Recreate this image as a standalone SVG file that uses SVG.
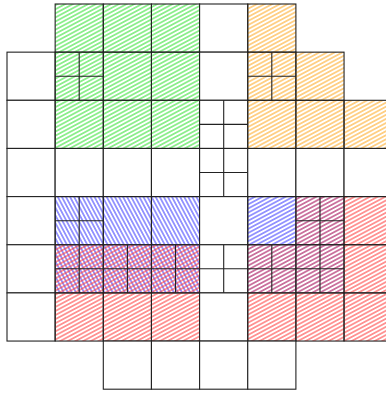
<svg xmlns="http://www.w3.org/2000/svg" width="386" height="394" viewBox="0 0 386 394">
<style>
.c{stroke:#222;stroke-width:1.1;fill:none}
.w{fill:#fff}
.g{fill:url(#pg)}
.o{fill:url(#po)}
.b{fill:url(#pb)}
.bs{fill:url(#pbs)}
.r{fill:url(#pr)}
.p{fill:url(#pp)}
</style>
<defs>
<pattern id="pg" width="8" height="3.6" patternUnits="userSpaceOnUse" patternTransform="rotate(-28)"><line x1="0" y1="1.8" x2="8" y2="1.8" stroke="#2ee02e" stroke-width="1"/></pattern>
<pattern id="po" width="8" height="3.6" patternUnits="userSpaceOnUse" patternTransform="rotate(-28)"><line x1="0" y1="1.8" x2="8" y2="1.8" stroke="#ffa820" stroke-width="1"/></pattern>
<pattern id="pb" width="8" height="3.6" patternUnits="userSpaceOnUse" patternTransform="rotate(-28)"><line x1="0" y1="1.8" x2="8" y2="1.8" stroke="#3a3aff" stroke-width="1"/></pattern>
<pattern id="pr" width="8" height="3.6" patternUnits="userSpaceOnUse" patternTransform="rotate(-28)"><line x1="0" y1="1.8" x2="8" y2="1.8" stroke="#ff3a3a" stroke-width="1"/></pattern>
<pattern id="pp" width="8" height="3.6" patternUnits="userSpaceOnUse" patternTransform="rotate(-28)"><line x1="0" y1="1.8" x2="8" y2="1.8" stroke="#a8145e" stroke-width="1.1"/></pattern>
<pattern id="pbs" width="8" height="3.6" patternUnits="userSpaceOnUse" patternTransform="rotate(62)"><line x1="0" y1="1.8" x2="8" y2="1.8" stroke="#3a3aff" stroke-width="1"/></pattern>
</defs>
<rect width="386" height="394" fill="#fff"/>
<g id="cells">
<!-- row 0 -->
<g id="r0c1"><rect class="c g" x="55.15" y="4" width="48.15" height="48.15"/></g>
<g id="r0c2"><rect class="c g" x="103.3" y="4" width="48.15" height="48.15"/></g>
<g id="r0c3"><rect class="c g" x="151.45" y="4" width="48.15" height="48.15"/></g>
<g id="r0c4"><rect class="c w" x="199.6" y="4" width="48.15" height="48.15"/></g>
<g id="r0c5"><rect class="c o" x="247.75" y="4" width="48.15" height="48.15"/></g>
<!-- row 1 -->
<g id="r1c0"><rect class="c w" x="7" y="52.15" width="48.15" height="48.15"/></g>
<g id="r1c1"><rect class="c g" x="55.15" y="52.15" width="48.15" height="48.15"/><path class="c" d="M79.2 52.15V100.3M55.15 76.2H103.3"/></g>
<g id="r1c2"><rect class="c g" x="103.3" y="52.15" width="48.15" height="48.15"/></g>
<g id="r1c3"><rect class="c g" x="151.45" y="52.15" width="48.15" height="48.15"/></g>
<g id="r1c4"><rect class="c w" x="199.6" y="52.15" width="48.15" height="48.15"/></g>
<g id="r1c5"><rect class="c o" x="247.75" y="52.15" width="48.15" height="48.15"/><path class="c" d="M271.8 52.15V100.3M247.75 76.2H295.9"/></g>
<g id="r1c6"><rect class="c o" x="295.9" y="52.15" width="48.15" height="48.15"/></g>
<!-- row 2 -->
<g id="r2c0"><rect class="c w" x="7" y="100.3" width="48.15" height="48.15"/></g>
<g id="r2c1"><rect class="c g" x="55.15" y="100.3" width="48.15" height="48.15"/></g>
<g id="r2c2"><rect class="c g" x="103.3" y="100.3" width="48.15" height="48.15"/></g>
<g id="r2c3"><rect class="c g" x="151.45" y="100.3" width="48.15" height="48.15"/></g>
<g id="r2c4"><rect class="c w" x="199.6" y="100.3" width="48.15" height="48.15"/><path class="c" d="M223.7 100.3V148.45M199.6 124.4H247.75"/></g>
<g id="r2c5"><rect class="c o" x="247.75" y="100.3" width="48.15" height="48.15"/></g>
<g id="r2c6"><rect class="c o" x="295.9" y="100.3" width="48.15" height="48.15"/></g>
<g id="r2c7"><rect class="c o" x="344.05" y="100.3" width="48.15" height="48.15"/></g>
<!-- row 3 -->
<g id="r3c0"><rect class="c w" x="7" y="148.45" width="48.15" height="48.15"/></g>
<g id="r3c1"><rect class="c w" x="55.15" y="148.45" width="48.15" height="48.15"/></g>
<g id="r3c2"><rect class="c w" x="103.3" y="148.45" width="48.15" height="48.15"/></g>
<g id="r3c3"><rect class="c w" x="151.45" y="148.45" width="48.15" height="48.15"/></g>
<g id="r3c4"><rect class="c w" x="199.6" y="148.45" width="48.15" height="48.15"/><path class="c" d="M223.7 148.45V196.6M199.6 172.5H247.75"/></g>
<g id="r3c5"><rect class="c w" x="247.75" y="148.45" width="48.15" height="48.15"/></g>
<g id="r3c6"><rect class="c w" x="295.9" y="148.45" width="48.15" height="48.15"/></g>
<g id="r3c7"><rect class="c w" x="344.05" y="148.45" width="48.15" height="48.15"/></g>
<!-- row 4 -->
<g id="r4c0"><rect class="c w" x="7" y="196.6" width="48.15" height="48.15"/></g>
<g id="r4c1"><rect class="c bs" x="55.15" y="196.6" width="48.15" height="48.15"/><path class="c" d="M79.2 196.6V244.75M55.15 220.7H103.3"/></g>
<g id="r4c2"><rect class="c bs" x="103.3" y="196.6" width="48.15" height="48.15"/></g>
<g id="r4c3"><rect class="c bs" x="151.45" y="196.6" width="48.15" height="48.15"/></g>
<g id="r4c4"><rect class="c w" x="199.6" y="196.6" width="48.15" height="48.15"/></g>
<g id="r4c5"><rect class="c b" x="247.75" y="196.6" width="48.15" height="48.15"/></g>
<g id="r4c6"><rect class="c p" x="295.9" y="196.6" width="48.15" height="48.15"/><path class="c" d="M320 196.6V244.75M295.9 220.7H344.05"/></g>
<g id="r4c7"><rect class="c r" x="344.05" y="196.6" width="48.15" height="48.15"/></g>
<!-- row 5 -->
<g id="r5c0"><rect class="c w" x="7" y="244.75" width="48.15" height="48.15"/></g>
<g id="r5c1"><rect class="bs" x="55.15" y="244.75" width="48.15" height="48.15"/><rect class="c r" x="55.15" y="244.75" width="48.15" height="48.15"/><path class="c" d="M79.2 244.75V292.9M55.15 268.8H103.3"/></g>
<g id="r5c2"><rect class="bs" x="103.3" y="244.75" width="48.15" height="48.15"/><rect class="c r" x="103.3" y="244.75" width="48.15" height="48.15"/><path class="c" d="M127.4 244.75V292.9M103.3 268.8H151.45"/></g>
<g id="r5c3"><rect class="bs" x="151.45" y="244.75" width="48.15" height="48.15"/><rect class="c r" x="151.45" y="244.75" width="48.15" height="48.15"/><path class="c" d="M175.5 244.75V292.9M151.45 268.8H199.6"/></g>
<g id="r5c4"><rect class="c w" x="199.6" y="244.75" width="48.15" height="48.15"/><path class="c" d="M223.7 244.75V292.9M199.6 268.8H247.75"/></g>
<g id="r5c5"><rect class="c p" x="247.75" y="244.75" width="48.15" height="48.15"/><path class="c" d="M271.8 244.75V292.9M247.75 268.8H295.9"/></g>
<g id="r5c6"><rect class="c p" x="295.9" y="244.75" width="48.15" height="48.15"/><path class="c" d="M320 244.75V292.9M295.9 268.8H344.05"/></g>
<g id="r5c7"><rect class="c r" x="344.05" y="244.75" width="48.15" height="48.15"/></g>
<!-- row 6 -->
<g id="r6c0"><rect class="c w" x="7" y="292.9" width="48.15" height="48.15"/></g>
<g id="r6c1"><rect class="c r" x="55.15" y="292.9" width="48.15" height="48.15"/></g>
<g id="r6c2"><rect class="c r" x="103.3" y="292.9" width="48.15" height="48.15"/></g>
<g id="r6c3"><rect class="c r" x="151.45" y="292.9" width="48.15" height="48.15"/></g>
<g id="r6c4"><rect class="c w" x="199.6" y="292.9" width="48.15" height="48.15"/></g>
<g id="r6c5"><rect class="c r" x="247.75" y="292.9" width="48.15" height="48.15"/></g>
<g id="r6c6"><rect class="c r" x="295.9" y="292.9" width="48.15" height="48.15"/></g>
<g id="r6c7"><rect class="c r" x="344.05" y="292.9" width="48.15" height="48.15"/></g>
<!-- row 7 -->
<g id="r7c2"><rect class="c w" x="103.3" y="341.05" width="48.15" height="48.15"/></g>
<g id="r7c3"><rect class="c w" x="151.45" y="341.05" width="48.15" height="48.15"/></g>
<g id="r7c4"><rect class="c w" x="199.6" y="341.05" width="48.15" height="48.15"/></g>
<g id="r7c5"><rect class="c w" x="247.75" y="341.05" width="48.15" height="48.15"/></g>
</g>
<g id="connectors"></g>
</svg>
